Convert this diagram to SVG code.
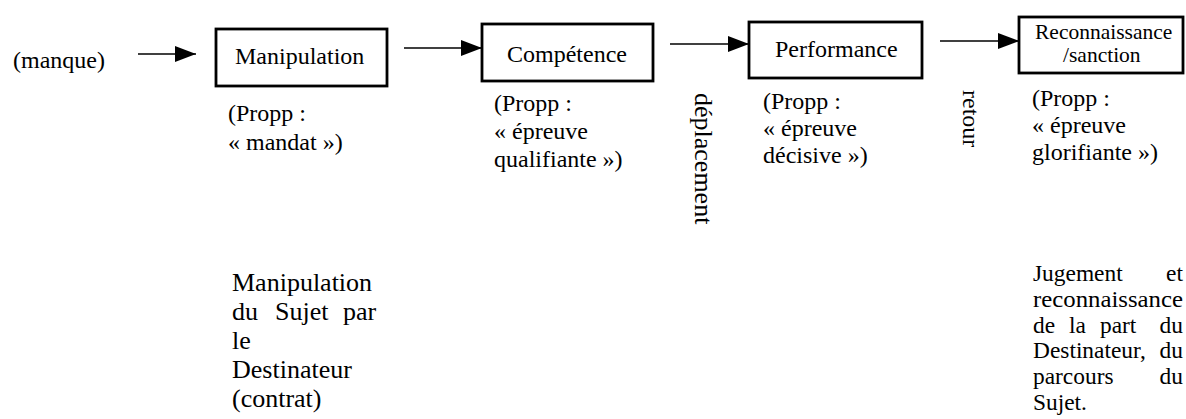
<svg xmlns="http://www.w3.org/2000/svg" width="1186" height="419" viewBox="0 0 1186 419">
<style>
  text { font-family: "Liberation Serif", Tinos, "DejaVu Serif", "Noto Serif", serif; fill: #000; }
  .t { font-size: 24px; }
  .b { font-size: 26px; }
  .r { font-size: 23.4px; }
  .box { fill: #fff; stroke: #000; stroke-width: 2.8; }
  .conn line { stroke: #000; stroke-width: 1.6; }
</style>
<defs>
  <marker id="ah" markerUnits="userSpaceOnUse" markerWidth="22" markerHeight="16" refX="21" refY="8" orient="auto">
    <polygon points="0,0 21,8 0,16" fill="#000"/>
  </marker>
</defs>
<rect width="1186" height="419" fill="#fff"/>

<g id="manque">
  <text class="t" x="13" y="68">(manque)</text>
</g>

<g id="node-manipulation">
  <rect class="box" x="216" y="29" width="171" height="57"/>
  <text class="t" x="235" y="64">Manipulation</text>
  <text class="t" x="228" y="121">(Propp :</text>
  <text class="t" x="228" y="150">« mandat »)</text>
</g>

<g id="node-competence">
  <rect class="box" x="482" y="24" width="171" height="57"/>
  <text class="t" x="507" y="62">Compétence</text>
  <text class="t" x="494" y="111">(Propp :</text>
  <text class="t" x="494" y="139">« épreuve</text>
  <text class="t" x="494" y="167">qualifiante »)</text>
</g>

<g id="node-performance">
  <rect class="box" x="749" y="22" width="173" height="56"/>
  <text class="t" x="775" y="57">Performance</text>
  <text class="t" x="763" y="109">(Propp :</text>
  <text class="t" x="763" y="136">« épreuve</text>
  <text class="t" x="763" y="163">décisive »)</text>
</g>

<g id="node-reconnaissance">
  <rect class="box" x="1019" y="17" width="164" height="56"/>
  <text x="1035" y="39" font-size="21.5">Reconnaissance</text>
  <text x="1063" y="62" font-size="21.5">/sanction</text>
  <text class="t" x="1032" y="106">(Propp :</text>
  <text class="t" x="1032" y="133">« épreuve</text>
  <text class="t" x="1032" y="160">glorifiante »)</text>
</g>

<g id="label-deplacement">
  <text class="b" transform="translate(695,93) rotate(90)">déplacement</text>
</g>
<g id="label-retour">
  <text class="t" transform="translate(963,90) rotate(90)">retour</text>
</g>

<g id="note-manipulation">
  <text class="b" x="232" y="291">Manipulation</text>
  <text class="b" y="320"><tspan x="232">du</tspan><tspan x="275">Sujet</tspan><tspan x="343">par</tspan></text>
  <text class="b" x="232" y="349">le</text>
  <text class="b" x="232" y="378">Destinateur</text>
  <text class="b" x="232" y="407">(contrat)</text>
</g>

<g id="note-sanction">
  <text class="r" x="1033" y="281">Jugement</text>
  <text class="r" x="1183" y="281" text-anchor="end">et</text>
  <text class="r" x="1033" y="307" textLength="150" lengthAdjust="spacingAndGlyphs">reconnaissance</text>
  <text class="r" y="333"><tspan x="1033">de</tspan><tspan x="1069">la</tspan><tspan x="1100">part</tspan></text>
  <text class="r" x="1183" y="333" text-anchor="end">du</text>
  <text class="r" x="1033" y="358">Destinateur,</text>
  <text class="r" x="1183" y="358" text-anchor="end">du</text>
  <text class="r" x="1033" y="384">parcours</text>
  <text class="r" x="1183" y="384" text-anchor="end">du</text>
  <text class="r" x="1033" y="410">Sujet.</text>
</g>

<g id="connectors" class="conn">
  <line x1="138" y1="54" x2="196" y2="54" marker-end="url(#ah)"/>
  <line x1="404" y1="48" x2="482" y2="48" marker-end="url(#ah)"/>
  <line x1="670" y1="44" x2="749" y2="44" marker-end="url(#ah)"/>
  <line x1="940" y1="41" x2="1019" y2="41" marker-end="url(#ah)"/>
</g>
</svg>
